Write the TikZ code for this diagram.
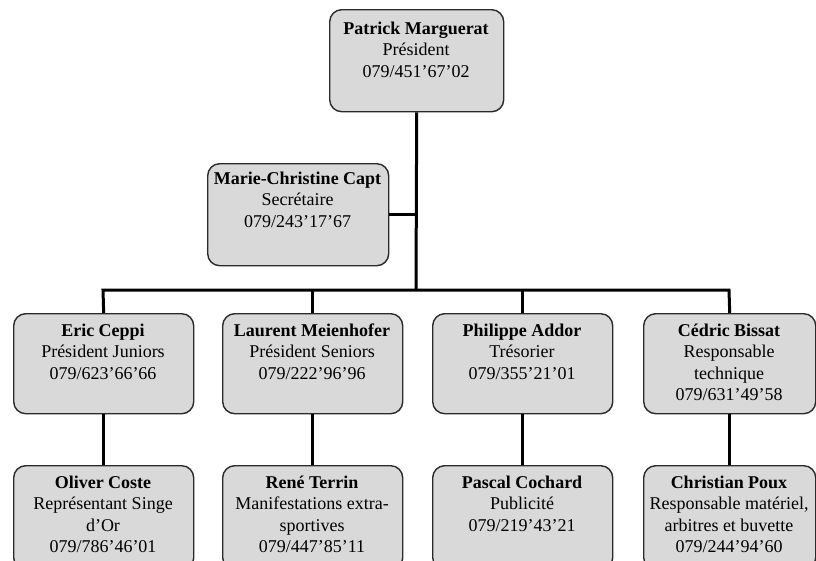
\documentclass[tikz,border=0pt]{standalone}
\usepackage{fontspec}
\setmainfont{Liberation Serif}
\definecolor{boxgray}{HTML}{D9D9D9}
\definecolor{boxline}{HTML}{2A2A2A}
\begin{document}
\begin{tikzpicture}[x=1pt,y=-1pt,
  box/.style={draw=boxline, line width=1.4pt, fill=boxgray, rounded corners=12pt,
    inner sep=0pt, anchor=north west, minimum height=100pt},
  txt/.style={align=center, font=\fontsize{18}{21.5}\selectfont, anchor=base, inner sep=0pt},
  conn/.style={line width=3pt, black}]
\useasboundingbox (0,0) rectangle (816,560);
\clip (0,0) rectangle (816,560);
% boxes
\node[box, minimum width=174pt, minimum height=102pt] (pm) at (329,9) {};
\node[box, minimum width=181pt, minimum height=102pt] (sec) at (207,163) {};
\node[box, minimum width=180pt] (eric) at (13,313) {};
\node[box, minimum width=180pt] (laurent) at (222,313) {};
\node[box, minimum width=180pt] (philippe) at (432,313) {};
\node[box, minimum width=172pt] (cedric) at (643,313) {};
\node[box, minimum width=180pt, minimum height=104pt] (oliver) at (13,465) {};
\node[box, minimum width=180pt, minimum height=104pt] (rene) at (222,465) {};
\node[box, minimum width=180pt, minimum height=104pt] (pascal) at (432,465) {};
\node[box, minimum width=172pt, minimum height=104pt] (christian) at (643,465) {};
% connectors
\coordinate (bus) at (416,290);
\coordinate (busL) at (103,290);
\coordinate (busR) at (729,290);
\draw[conn] (pm.south) -- (bus);
\draw[conn] (sec.east) -- (sec.east -| pm.south);
\draw[conn] (eric.north) -- (busL) -- (busR) -- (cedric.north);
\draw[conn] (laurent.north) -- (laurent.north |- bus);
\draw[conn] (philippe.north) -- (philippe.north |- bus);
\draw[conn] (eric.south) -- (oliver.north);
\draw[conn] (laurent.south) -- (rene.north);
\draw[conn] (philippe.south) -- (pascal.north);
\draw[conn] (cedric.south) -- (christian.north);
% texts (anchor base = baseline of last line)
\node[txt] (pmt) at (416,77) {\textbf{Patrick Marguerat}\\Président\\079/451’67’02};
\node[txt] (sect) at (297.5,227) {\textbf{Marie-Christine Capt}\\Secrétaire\\079/243’17’67};
\node[txt] (erict) at (103,379) {\textbf{Eric Ceppi}\\Président Juniors\\079/623’66’66};
\node[txt] (laurentt) at (312,379) {\textbf{Laurent Meienhofer}\\Président Seniors\\079/222’96’96};
\node[txt] (philippet) at (522,379) {\textbf{Philippe Addor}\\Trésorier\\079/355’21’01};
\node[txt] (cedrict) at (729,400.5) {\textbf{Cédric Bissat}\\Responsable\\technique\\079/631’49’58};
\node[txt] (olivert) at (103,552.5) {\textbf{Oliver Coste}\\Représentant Singe\\d’Or\\079/786’46’01};
\node[txt] (renet) at (312,552.5) {\textbf{René Terrin}\\Manifestations extra-\\sportives\\079/447’85’11};
\node[txt] (pascalt) at (522,531) {\textbf{Pascal Cochard}\\Publicité\\079/219’43’21};
\node[txt] (christiant) at (729,552.5) {\textbf{Christian Poux}\\Responsable matériel,\\arbitres et buvette\\079/244’94’60};
\end{tikzpicture}
\end{document}
